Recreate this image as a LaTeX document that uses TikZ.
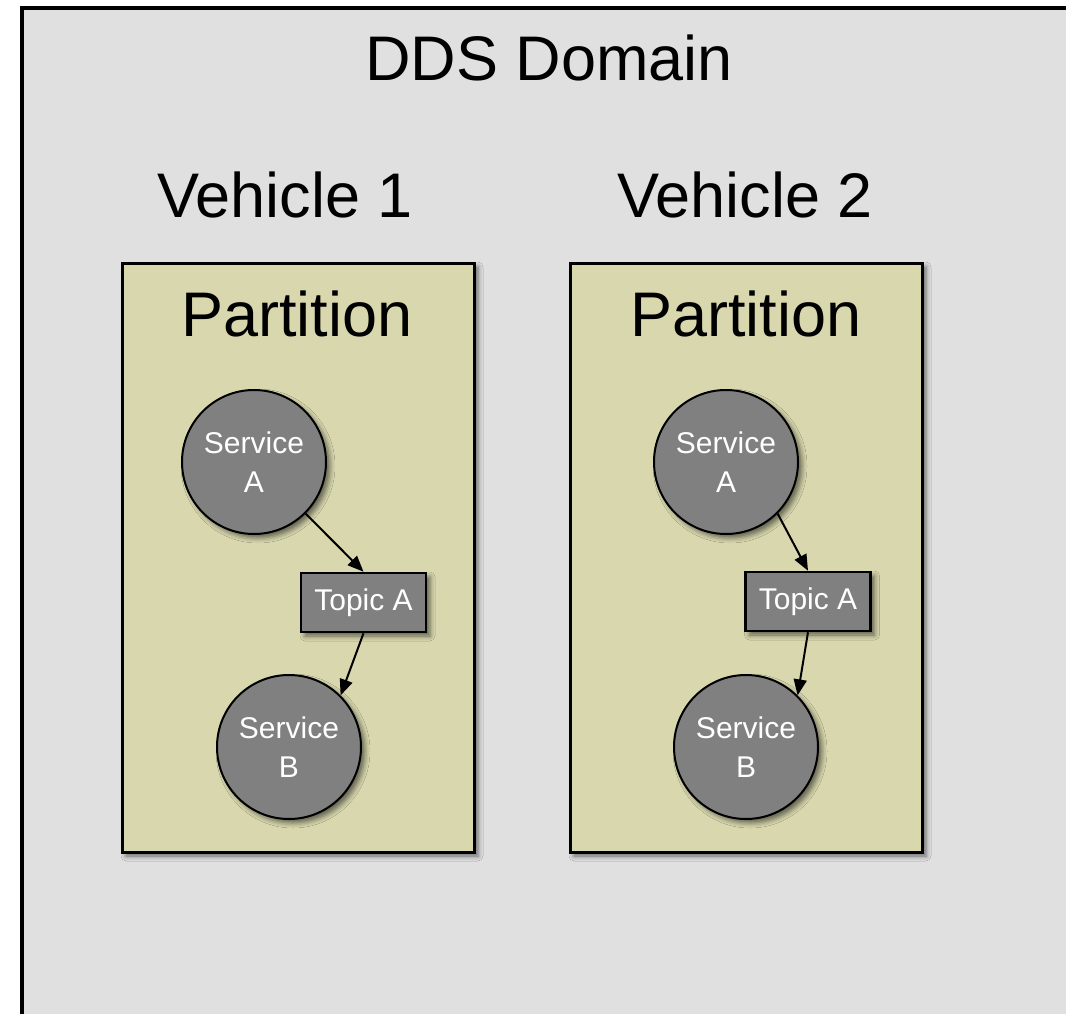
\documentclass[tikz,border=0pt]{standalone}
\usepackage{fontspec}
\setmainfont{Liberation Sans}
\usetikzlibrary{arrows.meta,shadows.blur}
\definecolor{domainbg}{HTML}{E0E0E0}
\definecolor{partbg}{HTML}{D8D7AE}
\definecolor{nodegray}{HTML}{808080}
\tikzset{
  softshadow/.style={blur shadow={shadow xshift=4pt, shadow yshift=-4pt,
      shadow blur radius=5pt, shadow opacity=55}},
  partbox/.style={rectangle, draw=black, line width=3pt, fill=partbg,
      inner sep=0pt, minimum width=352pt, minimum height=589pt, softshadow},
  service/.style={circle, draw=black, line width=2pt, fill=nodegray,
      minimum size=144pt, inner sep=0pt, text=white, align=center,
      font=\fontsize{30}{39}\selectfont, softshadow},
  topic/.style={rectangle, draw=black, line width=2.5pt, fill=nodegray,
      minimum width=125pt, minimum height=59pt, inner sep=0pt, text=white,
      font=\fontsize{30}{36}\selectfont, softshadow},
  flow/.style={-{Triangle[length=16pt,width=13pt]}, line width=2pt},
  title/.style={anchor=base, inner sep=0pt, font=\fontsize{63}{72}\selectfont},
}
\begin{document}
\begin{tikzpicture}[x=1pt, y=-1pt]
  \useasboundingbox (0,0) rectangle (1066,1014);
  \clip (0,0) rectangle (1066,1014);

  % domain frame (runs off the page to the right and bottom)
  \draw[line width=3.5pt, fill=domainbg] (22,8) rectangle (1100,1050);
  \node[title] (domain) at (549,81) {DDS Domain};

  % vehicle labels
  \node[title] (veh1) at (285,218) {Vehicle 1};
  \node[title] (veh2) at (745,218) {Vehicle 2};

  % partitions
  \node[partbox] (part1) at (298,557.5) {};
  \node[partbox] (part2) at (746,557.5) {};
  \node[title] (plabel1) at (297,336) {Partition};
  \node[title] (plabel2) at (746,336) {Partition};

  % vehicle 1 services and topic
  \node[service] (sa1) at (254,462) {Service\\A};
  \node[topic]   (ta1) at (363.5,602.5) {Topic A};
  \node[service] (sb1) at (289,747) {Service\\B};

  % vehicle 2 services and topic
  \node[service] (sa2) at (726,462) {Service\\A};
  \node[topic]   (ta2) at (808,601.5) {Topic A};
  \node[service] (sb2) at (746,747) {Service\\B};

  % data flow
  \draw[flow] (sa1.-45) -- (ta1.north);
  \draw[flow] (ta1.south) -- (sb1.45);
  \draw[flow] (sa2.-45) -- (ta2.north);
  \draw[flow] (ta2.south) -- (sb2.45);
\end{tikzpicture}
\end{document}
